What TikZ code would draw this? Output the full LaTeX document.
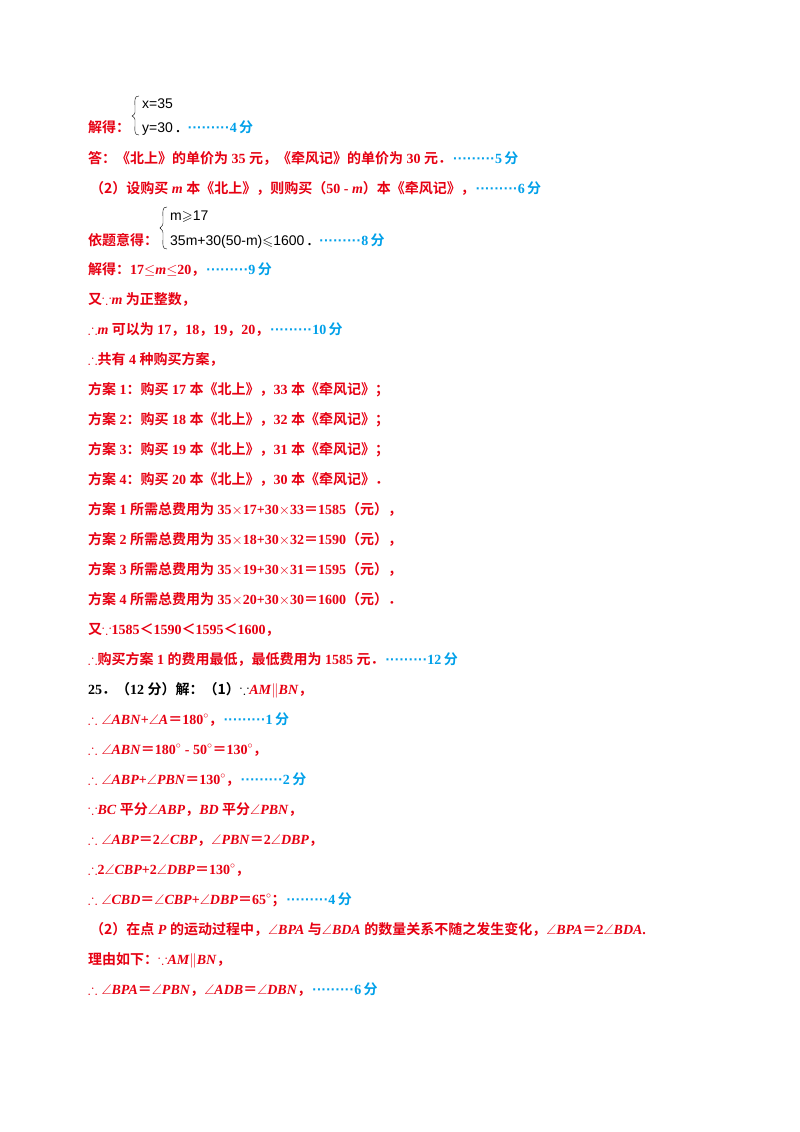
\documentclass[tikz,border=0pt]{standalone}
\usepackage{amssymb}
\usepackage{fontspec}
\setmainfont{Liberation Serif}
\newfontfamily\cjk{Noto Sans CJK SC}[BoldFont=* Bold]
\newfontfamily\eqf{Liberation Sans}
\definecolor{rr}{RGB}{230,0,18}
\definecolor{bb}{RGB}{0,160,233}
\newcommand\Cj[1]{{\cjk\bfseries #1}}
\newcommand\Sc[1]{\textcolor{bb}{\bfseries\kern1pt{\fontspec{Liberation Sans}·········}#1\,\Cj{分}}}
\newcommand\It[1]{\textit{#1}}
\begin{document}
\begin{tikzpicture}[x=1pt,y=-1pt,
  ln/.style={anchor=base west,inner sep=0,text=rr,font=\fontsize{14}{16}\selectfont\bfseries},
  eq/.style={anchor=base west,inner sep=0,text=black,font=\fontsize{14}{16}\selectfont\eqf}]
\useasboundingbox (0,0) rectangle (800,1132);
\node[eq] (e1) at (142,108) {x=35};
\node[eq] (e2) at (142,132) {y=30};
\draw (139,96) .. controls (134,96) and (135,99) .. (135,110) .. controls (135,114) .. (132,116) .. controls (135,118) .. (135,122) .. controls (135,132) and (134,135) .. (139,135);
\node[ln] (l1) at (88,132) {\Cj{解得：}};
\node[ln,anchor=base west] (s1) at ([xshift=3pt]e2.base east) {\textcolor{black}{.}\ \ \Sc{4}};
\node[ln] (l2) at (88,163) {\Cj{答：《北上》的单价为} 35 \Cj{元，《牵风记》的单价为} 30 \Cj{元．}\Sc{5}};
\node[ln] (l3) at (90,193) {\Cj{（2）设购买} \It{m} \Cj{本《北上》，则购买（}50 - \It{m}\Cj{）本《牵风记》，}\Sc{6}};
\node[eq] (e3) at (170,220) {m$\geqslant$17};
\node[eq] (e4) at (170,245) {35m+30(50-m)$\leqslant$1600};
\draw (167,207) .. controls (162,207) and (163,210) .. (163,221) .. controls (163,225) .. (160,228) .. controls (163,231) .. (163,235) .. controls (163,246) and (162,249) .. (167,249);
\node[ln] (l4) at (88,245) {\Cj{依题意得：}};
\node[ln,anchor=base west] (s4) at ([xshift=3pt]e4.base east) {\textcolor{black}{.}\ \ \Sc{8}};
\node[ln] (l5) at (88,274) {\Cj{解得：}17$\leq$\It{m}$\leq$20\Cj{，}\Sc{9}};
\node[ln] (l6) at (88,304) {\Cj{又}$\because$\It{m} \Cj{为正整数，}};
\node[ln] (l7) at (88,334) {$\therefore$\It{m} \Cj{可以为} 17\Cj{，}18\Cj{，}19\Cj{，}20\Cj{，}\Sc{10}};
\node[ln] (l8) at (88,364) {$\therefore$\Cj{共有} 4 \Cj{种购买方案，}};
\node[ln] (l9) at (88,394) {\Cj{方案} 1\Cj{：购买} 17 \Cj{本《北上》，}33 \Cj{本《牵风记》；}};
\node[ln] (l10) at (88,424) {\Cj{方案} 2\Cj{：购买} 18 \Cj{本《北上》，}32 \Cj{本《牵风记》；}};
\node[ln] (l11) at (88,454) {\Cj{方案} 3\Cj{：购买} 19 \Cj{本《北上》，}31 \Cj{本《牵风记》；}};
\node[ln] (l12) at (88,484) {\Cj{方案} 4\Cj{：购买} 20 \Cj{本《北上》，}30 \Cj{本《牵风记》．}};
\node[ln] (l13) at (88,514) {\Cj{方案} 1 \Cj{所需总费用为} 35$\times$17+30$\times$33\Cj{＝}1585\Cj{（元），}};
\node[ln] (l14) at (88,544) {\Cj{方案} 2 \Cj{所需总费用为} 35$\times$18+30$\times$32\Cj{＝}1590\Cj{（元），}};
\node[ln] (l15) at (88,574) {\Cj{方案} 3 \Cj{所需总费用为} 35$\times$19+30$\times$31\Cj{＝}1595\Cj{（元），}};
\node[ln] (l16) at (88,604) {\Cj{方案} 4 \Cj{所需总费用为} 35$\times$20+30$\times$30\Cj{＝}1600\Cj{（元）．}};
\node[ln] (l17) at (88,634) {\Cj{又}$\because$1585\Cj{＜}1590\Cj{＜}1595\Cj{＜}1600\Cj{，}};
\node[ln] (l18) at (88,664) {$\therefore$\Cj{购买方案} 1 \Cj{的费用最低，最低费用为} 1585 \Cj{元．}\Sc{12}};
\node[ln,text=black] (l19) at (88,694) {25\Cj{．（}12 \Cj{分）解：（1）}$\because$\textcolor{rr}{\It{AM}$\parallel$\It{BN}\Cj{，}}};
\node[ln] (l20) at (88,724) {$\therefore\angle$\It{ABN}+$\angle$\It{A}\Cj{＝}180$^\circ$\Cj{，}\Sc{1}};
\node[ln] (l21) at (88,754) {$\therefore\angle$\It{ABN}\Cj{＝}180$^\circ$ - 50$^\circ$\Cj{＝}130$^\circ$\Cj{，}};
\node[ln] (l22) at (88,784) {$\therefore\angle$\It{ABP}+$\angle$\It{PBN}\Cj{＝}130$^\circ$\Cj{，}\Sc{2}};
\node[ln] (l23) at (88,814) {$\because$\It{BC} \Cj{平分}$\angle$\It{ABP}\Cj{，}\It{BD} \Cj{平分}$\angle$\It{PBN}\Cj{，}};
\node[ln] (l24) at (88,844) {$\therefore\angle$\It{ABP}\Cj{＝}2$\angle$\It{CBP}\Cj{，}$\angle$\It{PBN}\Cj{＝}2$\angle$\It{DBP}\Cj{，}};
\node[ln] (l25) at (88,874) {$\therefore$2$\angle$\It{CBP}+2$\angle$\It{DBP}\Cj{＝}130$^\circ$\Cj{，}};
\node[ln] (l26) at (88,904) {$\therefore\angle$\It{CBD}\Cj{＝}$\angle$\It{CBP}+$\angle$\It{DBP}\Cj{＝}65$^\circ$\Cj{；}\Sc{4}};
\node[ln] (l27) at (90,934) {\Cj{（2）在点} \It{P} \Cj{的运动过程中，}$\angle$\It{BPA} \Cj{与}$\angle$\It{BDA} \Cj{的数量关系不随之发生变化，}$\angle$\It{BPA}\Cj{＝}2$\angle$\It{BDA}.};
\node[ln] (l28) at (88,964) {\Cj{理由如下：}$\because$\It{AM}$\parallel$\It{BN}\Cj{，}};
\node[ln] (l29) at (88,994) {$\therefore\angle$\It{BPA}\Cj{＝}$\angle$\It{PBN}\Cj{，}$\angle$\It{ADB}\Cj{＝}$\angle$\It{DBN}\Cj{，}\Sc{6}};
\end{tikzpicture}
\end{document}
